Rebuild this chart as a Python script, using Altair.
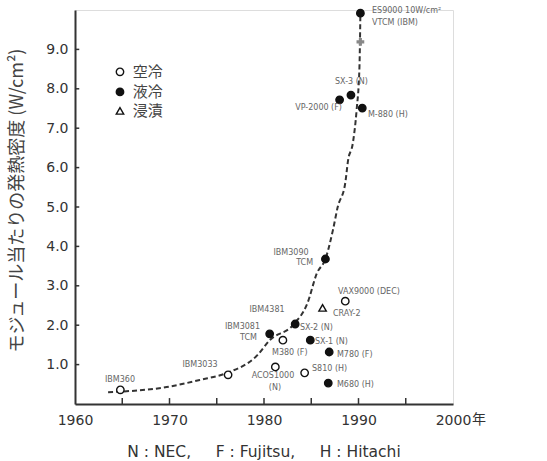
import altair as alt
import pandas as pd

# ---------------- data ----------------
pt_names = ["IBM360", "IBM3033", "ACOS1000", "M380", "S810", "VAX9000",
            "IBM3081", "SX-2", "SX-1", "IBM3090", "M780", "M680",
            "VP-2000", "SX-3", "M-880", "ES9000", "CRAY-2"]
pt_years = [1964.8, 1976.2, 1981.2, 1982.0, 1984.3, 1988.6,
            1980.6, 1983.3, 1984.9, 1986.5, 1986.9, 1986.8,
            1988.0, 1989.2, 1990.4, 1990.2, 1986.2]
pt_values = [0.36, 0.74, 0.94, 1.62, 0.79, 2.61,
             1.78, 2.03, 1.62, 3.68, 1.32, 0.53,
             7.72, 7.84, 7.51, 9.92, 2.44]
pt_types = ["空冷", "空冷", "空冷", "空冷", "空冷", "空冷",
            "液冷", "液冷", "液冷", "液冷", "液冷", "液冷",
            "液冷", "液冷", "液冷", "液冷", "浸漬"]

extra_years = [1990.2]
extra_values = [9.19]

curve_years = [1963.5, 1969.7, 1973.2, 1976.1, 1979.3, 1980.6, 1983.1, 1984.6,
               1985.6, 1986.5, 1987.3, 1987.8, 1988.6, 1988.9, 1989.4, 1989.8,
               1990.1, 1990.2]
curve_values = [0.30, 0.43, 0.61, 0.79, 1.24, 1.62, 2.01, 2.56,
                3.32, 3.68, 4.42, 5.00, 5.61, 6.19, 6.62, 7.46,
                8.55, 9.92]

lab_texts = ["ES9000  10W/cm²", "VTCM (IBM)", "SX-3 (N)", "VP-2000 (F)", "M-880 (H)",
             "IBM3090", "TCM", "VAX9000 (DEC)", "CRAY-2", "IBM4381", "SX-2 (N)",
             "IBM3081", "TCM", "M380 (F)", "SX-1 (N)", "M780 (F)", "ACOS1000", "(N)",
             "S810 (H)", "M680 (H)", "IBM3033", "IBM360"]
lab_years = [1991.43, 1991.43, 1987.51, 1988.25, 1991.0,
             1982.86, 1985.19, 1987.83, 1987.30, 1980.32, 1983.81,
             1979.58, 1979.26, 1980.85, 1985.40, 1987.72, 1980.95, 1981.16,
             1985.08, 1987.72, 1973.23, 1964.76]
lab_values = [9.97, 9.67, 8.17, 7.51, 7.34,
              3.83, 3.58, 2.84, 2.28, 2.39, 1.93,
              1.95, 1.68, 1.29, 1.57, 1.24, 0.71, 0.41,
              0.89, 0.48, 0.99, 0.61]
lab_aligns = ["left", "left", "left", "right", "left",
              "center", "right", "left", "left", "center", "left",
              "right", "right", "left", "left", "left", "center", "center",
              "left", "left", "center", "center"]

type_domain = ["空冷", "液冷", "浸漬"]
legend_year = 1964.76
legend_text_year = 1966.1
legend_values = [8.43, 7.92, 7.44]

x_ticks = [1960, 1970, 1980, 1990, 2000]
x_minor = [1965, 1970, 1975, 1980, 1985, 1990, 1995]
y_ticks = [1, 2, 3, 4, 5, 6, 7, 8, 9]

NB = "\u00a0"
caption = f"N : NEC,{NB*5}F : Fujitsu,{NB*5}H : Hitachi"
y_title = "モジュール当たりの発熱密度 (W/cm²)"

# ---------------- tables ----------------
pts = pd.DataFrame({"name": pt_names, "year": pt_years, "value": pt_values, "type": pt_types})
extra = pd.DataFrame({"year": extra_years, "value": extra_values})
curve = pd.DataFrame({"year": curve_years, "value": curve_values, "order": range(len(curve_years))})
labs = pd.DataFrame({"text": lab_texts, "year": lab_years, "value": lab_values, "align": lab_aligns})
leg = pd.DataFrame({"type": type_domain, "value": legend_values,
                    "year": [legend_year] * 3, "tyear": [legend_text_year] * 3})
xt = pd.DataFrame({"year": x_minor})
yt = pd.DataFrame({"value": y_ticks})

FONT = "DejaVu Sans"
JFONT = "Noto Sans CJK JP"
AX = "#333333"

xscale = alt.Scale(domain=[1960, 2000], nice=False)
yscale = alt.Scale(domain=[0, 10], nice=False)
shape_scale = alt.Scale(domain=type_domain, range=["circle", "circle", "triangle-up"])
fill_scale = alt.Scale(domain=type_domain, range=["white", "#111111", "white"])

xenc = alt.X("year:Q", scale=xscale,
             axis=alt.Axis(values=x_ticks, format="d", title=None, grid=False,
                           tickSize=0, labelPadding=9, labelFontSize=14, labelFont=FONT,
                           labelFlush=False, labelColor=AX, domainColor=AX, domainWidth=2))
yenc = alt.Y("value:Q", scale=yscale,
             axis=alt.Axis(values=y_ticks, format=".1f", title=y_title, grid=False,
                           tickSize=0, labelPadding=7, labelFontSize=14, labelFont=FONT,
                           labelFlush=False, labelColor=AX, domainColor=AX, domainWidth=2,
                           titleFont=JFONT, titleFontSize=18, titleFontWeight="normal",
                           titleColor="#444444", titlePadding=19, titleY=190))

base_curve = alt.Chart(curve).mark_line(
    strokeDash=[5, 3], strokeWidth=2, color="#333333", interpolate="monotone"
).encode(x=xenc, y=yenc, order="order:Q")

xtick_layer = alt.Chart(xt).mark_rule(color=AX, strokeWidth=1.5).encode(
    x=alt.X("year:Q", scale=xscale), y=alt.datum(0), y2=alt.datum(0.15))
ytick_layer = alt.Chart(yt).mark_rule(color=AX, strokeWidth=1.5).encode(
    y=alt.Y("value:Q", scale=yscale), x=alt.datum(1960), x2=alt.datum(1960.45))

points = alt.Chart(pts).mark_point(size=55, strokeWidth=1.4, opacity=1, stroke="#111111").encode(
    x=alt.X("year:Q", scale=xscale),
    y=alt.Y("value:Q", scale=yscale),
    shape=alt.Shape("type:N", scale=shape_scale, legend=None),
    fill=alt.Fill("type:N", scale=fill_scale, legend=None),
)

leg_pts = alt.Chart(leg).mark_point(size=55, strokeWidth=1.4, opacity=1, stroke="#111111").encode(
    x=alt.X("year:Q", scale=xscale),
    y=alt.Y("value:Q", scale=yscale),
    shape=alt.Shape("type:N", scale=shape_scale, legend=None),
    fill=alt.Fill("type:N", scale=fill_scale, legend=None),
)
leg_txt = alt.Chart(leg).mark_text(align="left", baseline="middle", fontSize=15,
                                   font=JFONT, color="#444444").encode(
    x=alt.X("tyear:Q", scale=xscale), y=alt.Y("value:Q", scale=yscale), text="type:N")

extra_pt = alt.Chart(extra).mark_point(shape="cross", size=60, filled=True,
                                       color="#888888", opacity=1).encode(
    x=alt.X("year:Q", scale=xscale), y=alt.Y("value:Q", scale=yscale))

def lab_layer(al):
    return alt.Chart(labs[labs["align"] == al]).mark_text(
        align=al, baseline="middle", fontSize=8, font=FONT, color="#666666"
    ).encode(x=alt.X("year:Q", scale=xscale), y=alt.Y("value:Q", scale=yscale), text="text:N")

nen = alt.Chart(pd.DataFrame({"t": ["年"]})).mark_text(
    align="left", baseline="top", fontSize=14, font=JFONT, color=AX, dx=19, dy=9
).encode(x=alt.datum(2000, scale=xscale), y=alt.datum(0, scale=yscale), text="t:N")

chart = alt.layer(
    base_curve, xtick_layer, ytick_layer, extra_pt, points, leg_pts, leg_txt,
    lab_layer("left"), lab_layer("right"), lab_layer("center"), nen
).properties(
    width=378, height=394,
    title=alt.TitleParams(caption, orient="bottom", anchor="middle", fontSize=15.5,
                          font=FONT, fontWeight="normal", color=AX, offset=18),
    autosize=alt.AutoSizeParams(type="none"),
    padding={"left": 75, "top": 10, "right": 94, "bottom": 57},
).configure_view(stroke=None).configure(background="white")

chart.save("out.html", embed_options={"renderer": "svg", "actions": False})
